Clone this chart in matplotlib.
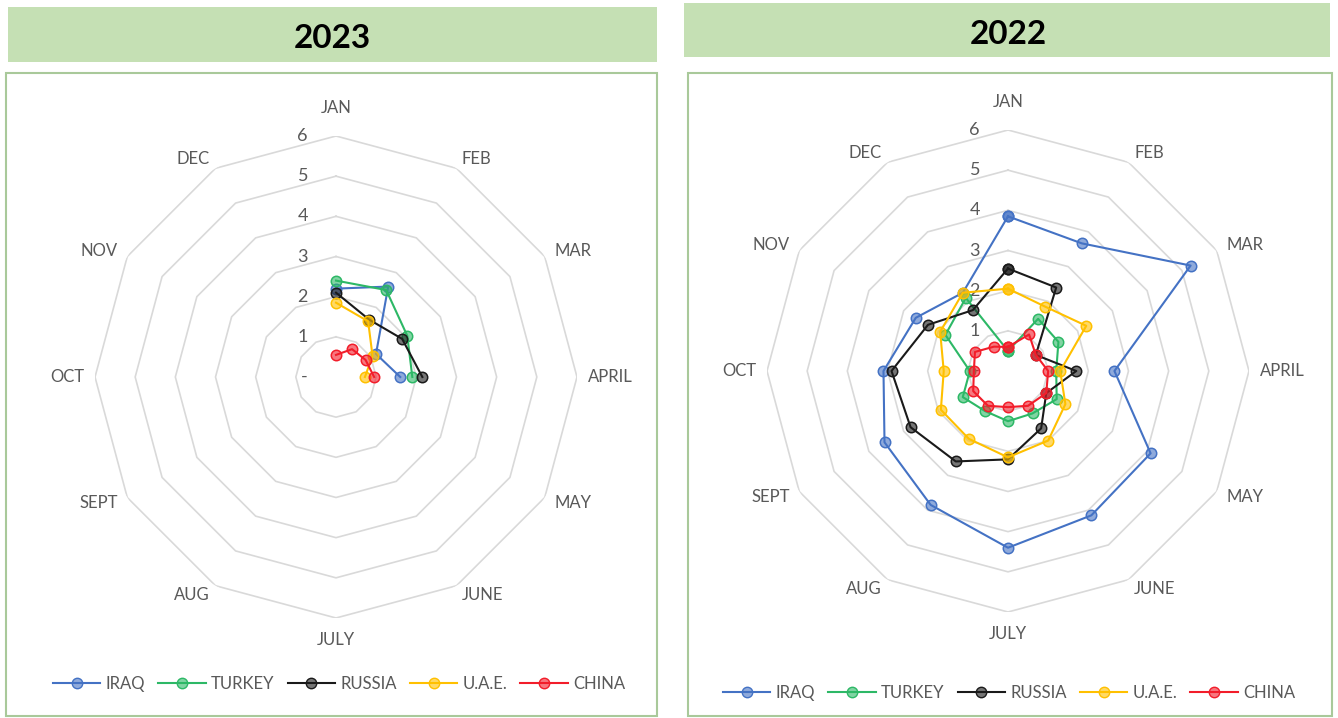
import numpy as np
import matplotlib
matplotlib.use("Agg")
import matplotlib.pyplot as plt
from matplotlib.patches import Rectangle
from matplotlib.lines import Line2D
from matplotlib.colors import to_rgba
from matplotlib.transforms import offset_copy

plt.rcParams['font.family'] = ['Lato', 'DejaVu Sans']

months = ['JAN', 'FEB', 'MAR', 'APRIL', 'MAY', 'JUNE',
          'JULY', 'AUG', 'SEPT', 'OCT', 'NOV', 'DEC']
countries = ['IRAQ', 'TURKEY', 'RUSSIA', 'U.A.E.', 'CHINA']
colors = ['#4472C4', '#2DB866', '#1A1A1A', '#FFC000', '#F21D2A']
r_ticks = [0, 1, 2, 3, 4, 5, 6]
r_tick_labels = ['-', '1', '2', '3', '4', '5', '6']

# 2023 - only Jan..Apr reported
iraq_2023 = [2.2, 2.6, 1.15, 1.6]
turkey_2023 = [2.4, 2.5, 2.05, 1.9]
russia_2023 = [2.1, 1.65, 1.9, 2.15]
uae_2023 = [1.85, 1.6, 1.05, 0.72]
china_2023 = [0.55, 0.8, 0.85, 0.95]

# 2022 - full year
iraq_2022 = [3.85, 3.67, 5.25, 2.65, 4.1, 4.15, 4.4, 3.85, 3.55, 3.1, 2.65, 2.25]
turkey_2022 = [0.5, 1.5, 1.45, 1.2, 1.4, 1.22, 1.25, 1.15, 1.3, 0.95, 1.8, 2.1]
russia_2022 = [2.55, 2.4, 0.8, 1.7, 1.1, 1.65, 2.2, 2.6, 2.8, 2.9, 2.3, 1.75]
uae_2022 = [2.05, 1.85, 2.25, 1.3, 1.65, 2.0, 2.15, 1.95, 1.93, 1.6, 1.95, 2.25]
china_2022 = [0.6, 1.05, 0.8, 1.0, 1.1, 1.0, 0.9, 1.0, 1.0, 0.85, 0.95, 0.7]

W, H = 1338, 718
GRID = '#D9D9D9'
TEXT = '#595959'
HEADER = '#C5E0B4'
BORDER = '#A9C99A'

theta = np.linspace(0, 2 * np.pi, len(months), endpoint=False)


def px_rect(x0, y0, x1, y1):
    # pixel box (top-left origin) -> figure fraction
    return (x0 / W, 1 - y1 / H, (x1 - x0) / W, (y1 - y0) / H)


def add_box(fig, box, **kw):
    x, y, w, h = px_rect(*box)
    fig.add_artist(Rectangle((x, y), w, h, transform=fig.transFigure, **kw))


def radar(fig, center, series, closed):
    cx, cy = center
    rad = 241
    ax = fig.add_axes([(cx - rad) / W, (H - cy - rad) / H, 2 * rad / W, 2 * rad / H],
                      projection='polar')
    ax.set_theta_zero_location('N')
    ax.set_theta_direction(-1)
    ax.set_ylim(0, 6)
    ax.grid(False)
    ax.spines['polar'].set_visible(False)
    ax.set_xticks([])
    ax.set_yticks([])
    ax.patch.set_alpha(0)

    # polygon gridlines
    th_closed = np.append(theta, theta[0])
    for r in r_ticks[1:]:
        ax.plot(th_closed, [r] * len(th_closed), color=GRID, lw=1.2, zorder=1)

    # value labels left of the JAN axis
    tr = offset_copy(ax.transData, fig=fig, x=-28, y=0, units='dots')
    for r, lab in zip(r_ticks, r_tick_labels):
        ax.text(0, r, lab, transform=tr, ha='right', va='center',
                fontsize=13, color=TEXT)

    # month labels, pushed out radially from the outer ring
    for t, m in zip(theta, months):
        s, c = np.sin(t), np.cos(t)
        if abs(s) < 1e-6:
            ha = 'center'
            va = 'bottom' if c > 0 else 'top'
            pad = 20 if c > 0 else 14
        else:
            ha = 'left' if s > 0 else 'right'
            va = 'center'
            pad = 11
        trm = offset_copy(ax.transData, fig=fig, x=pad * s, y=pad * c, units='dots')
        ax.text(t, 6, m, transform=trm, ha=ha, va=va, fontsize=12, color=TEXT)

    for vals, col in zip(series, colors):
        vals = list(vals)
        th = theta[:len(vals)]
        if closed:
            vals = vals + [vals[0]]
            th = np.append(th, th[0])
        ax.plot(th, vals, color=col, lw=1.5, marker='o', markersize=7.5,
                markerfacecolor=to_rgba(col, 0.6), markeredgecolor=col,
                markeredgewidth=1.1, zorder=3)
    return ax


fig = plt.figure(figsize=(W / 100, H / 100), dpi=100)
fig.patch.set_facecolor('white')

# headers and panel frames
add_box(fig, (8, 7, 657, 62), facecolor=HEADER, edgecolor='none')
add_box(fig, (684, 3, 1330, 57), facecolor=HEADER, edgecolor='none')
add_box(fig, (6, 73, 657, 716), facecolor='none', edgecolor=BORDER, lw=1.5)
add_box(fig, (688, 73, 1332, 716), facecolor='none', edgecolor=BORDER, lw=1.5)

fig.text(332 / W, 1 - 38 / H, '2023', ha='center', va='center',
         fontsize=24, fontweight='bold', color='black')
fig.text(1008 / W, 1 - 35 / H, '2022', ha='center', va='center',
         fontsize=24, fontweight='bold', color='black')

radar(fig, (336, 377),
      [iraq_2023, turkey_2023, russia_2023, uae_2023, china_2023], closed=False)
radar(fig, (1008, 371),
      [iraq_2022, turkey_2022, russia_2022, uae_2022, china_2022], closed=True)

handles = [Line2D([0], [0], color=c, lw=1.5, marker='o', markersize=7.5,
                  markerfacecolor=to_rgba(c, 0.6), markeredgecolor=c)
           for c in colors]
for xc, yc in [(339, 684), (1009, 693)]:
    fig.legend(handles, countries, loc='center', bbox_to_anchor=(xc / W, 1 - yc / H),
               ncol=5, frameon=False, fontsize=12, handlelength=2.85,
               handletextpad=0.3, columnspacing=0.8, labelcolor=TEXT)

fig.savefig('out.png', dpi=100)
